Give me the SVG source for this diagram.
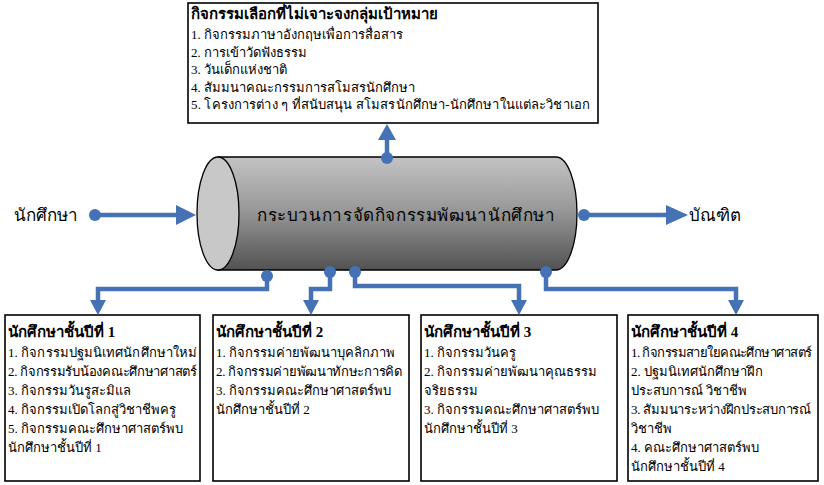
<svg xmlns="http://www.w3.org/2000/svg" width="824" height="485" viewBox="0 0 824 485">
<style>
.t{font-family:"Liberation Serif","DejaVu Serif",serif;font-size:13px;fill:#000}
.h{font-family:"Liberation Serif","DejaVu Serif",serif;font-size:15px;font-weight:bold;fill:#000}
.lb{font-family:"Liberation Sans","DejaVu Sans",sans-serif;font-size:17px;fill:#000}
.box{fill:#fff;stroke:#000;stroke-width:1.6}
.c{fill:none;stroke:#4472b4;stroke-width:4.5;stroke-linejoin:miter}
.dot{fill:#4472b4}
</style>
<defs>
<linearGradient id="g" x1="0" y1="0" x2="0" y2="1">
<stop offset="0" stop-color="#c3c3c3"/>
<stop offset="0.45" stop-color="#9a9a9a"/>
<stop offset="1" stop-color="#525252"/>
</linearGradient>
</defs>
<g id="top-box">
<rect class="box" x="188" y="3" width="410" height="120"/>
<text class="h" x="191" y="19">กิจกรรมเลือกที่ไม่เจาะจงกลุ่มเป้าหมาย</text>
<text class="t" x="191" y="39">1. กิจกรรมภาษาอังกฤษเพื่อการสื่อสาร</text>
<text class="t" x="191" y="56.5">2. การเข้าวัดฟังธรรม</text>
<text class="t" x="191" y="74">3. วันเด็กแห่งชาติ</text>
<text class="t" x="191" y="91.5">4. สัมมนาคณะกรรมการสโมสรนักศึกษา</text>
<text class="t" x="191" y="109" textLength="399">5. โครงการต่าง ๆ ที่สนับสนุน สโมสรนักศึกษา-นักศึกษาในแต่ละวิชาเอก</text>
</g>
<g id="cylinder">
<path d="M218,157 H556 A21,56.5 0 0 1 556,270 H218 Z" fill="url(#g)" stroke="#000" stroke-width="1.3"/>
<ellipse cx="218" cy="213.5" rx="21" ry="56.5" fill="#c8c8c8" stroke="#000" stroke-width="1.3"/>
<text class="lb" x="406" y="221" text-anchor="middle" font-size="18" textLength="298">กระบวนการจัดกิจกรรมพัฒนานักศึกษา</text>
</g>
<g id="input">
<text class="lb" x="14" y="221">นักศึกษา</text>
</g>
<g id="output">
<text class="lb" x="689" y="221">บัณฑิต</text>
</g>
<g id="box1">
<rect class="box" x="5" y="315" width="195" height="166"/>
<text class="h" x="8" y="337">นักศึกษาชั้นปีที่ 1</text>
<text class="t" x="8" y="357" textLength="189">1. กิจกรรมปฐมนิเทศนักศึกษาใหม่</text>
<text class="t" x="8" y="376" textLength="189">2. กิจกรรมรับน้องคณะศึกษาศาสตร์</text>
<text class="t" x="8" y="395">3. กิจกรรมวันรูสะมิแล</text>
<text class="t" x="8" y="414">4. กิจกรรมเปิดโลกสู่วิชาชีพครู</text>
<text class="t" x="8" y="433">5. กิจกรรมคณะศึกษาศาสตร์พบ</text>
<text class="t" x="8" y="452">นักศึกษาชั้นปีที่ 1</text>
</g>
<g id="box2">
<rect class="box" x="213" y="315" width="196" height="166"/>
<text class="h" x="216" y="337">นักศึกษาชั้นปีที่ 2</text>
<text class="t" x="216" y="357">1. กิจกรรมค่ายพัฒนาบุคลิกภาพ</text>
<text class="t" x="216" y="376" textLength="186">2. กิจกรรมค่ายพัฒนาทักษะการคิด</text>
<text class="t" x="216" y="395">3. กิจกรรมคณะศึกษาศาสตร์พบ</text>
<text class="t" x="216" y="414">นักศึกษาชั้นปีที่ 2</text>
</g>
<g id="box3">
<rect class="box" x="421" y="315" width="196" height="166"/>
<text class="h" x="424" y="337">นักศึกษาชั้นปีที่ 3</text>
<text class="t" x="424" y="357">1. กิจกรรมวันครู</text>
<text class="t" x="424" y="376">2. กิจกรรมค่ายพัฒนาคุณธรรม</text>
<text class="t" x="424" y="395">จริยธรรม</text>
<text class="t" x="424" y="414">3. กิจกรรมคณะศึกษาศาสตร์พบ</text>
<text class="t" x="424" y="433">นักศึกษาชั้นปีที่ 3</text>
</g>
<g id="box4">
<rect class="box" x="628" y="315" width="190" height="166"/>
<text class="h" x="631" y="337">นักศึกษาชั้นปีที่ 4</text>
<text class="t" x="631" y="357" textLength="181">1. กิจกรรมสายใยคณะศึกษาศาสตร์</text>
<text class="t" x="631" y="376">2. ปฐมนิเทศนักศึกษาฝึก</text>
<text class="t" x="631" y="395">ประสบการณ์ วิชาชีพ</text>
<text class="t" x="631" y="414" textLength="180">3. สัมมนาระหว่างฝึกประสบการณ์</text>
<text class="t" x="631" y="433">วิชาชีพ</text>
<text class="t" x="631" y="452">4. คณะศึกษาศาสตร์พบ</text>
<text class="t" x="631" y="471">นักศึกษาชั้นปีที่  4</text>
</g>
<g id="connectors">
<circle class="dot" cx="95" cy="215" r="6"/>
<path class="c" d="M95,215 H177"/>
<polygon class="dot" points="176,205 196,215 176,225"/>
<circle class="dot" cx="584" cy="215" r="6"/>
<path class="c" d="M584,215 H667"/>
<polygon class="dot" points="666,205 688,215 666,225"/>
<circle class="dot" cx="387" cy="158" r="6"/>
<path class="c" d="M387,158 V139"/>
<polygon class="dot" points="378,140 387,124 396,140"/>
<circle class="dot" cx="267" cy="276" r="6"/>
<path class="c" d="M267,276 V289 H98 V301"/>
<polygon class="dot" points="90,300 98,315 106,300"/>
<circle class="dot" cx="330" cy="272" r="6"/>
<path class="c" d="M330,272 V289 H311 V301"/>
<polygon class="dot" points="303,300 311,315 319,300"/>
<circle class="dot" cx="355" cy="272" r="6"/>
<path class="c" d="M355,272 V286 H519 V301"/>
<polygon class="dot" points="511,300 519,315 527,300"/>
<circle class="dot" cx="546" cy="272" r="6"/>
<path class="c" d="M546,272 V289 H736 V301"/>
<polygon class="dot" points="728,300 736,315 744,300"/>
</g>
</svg>
